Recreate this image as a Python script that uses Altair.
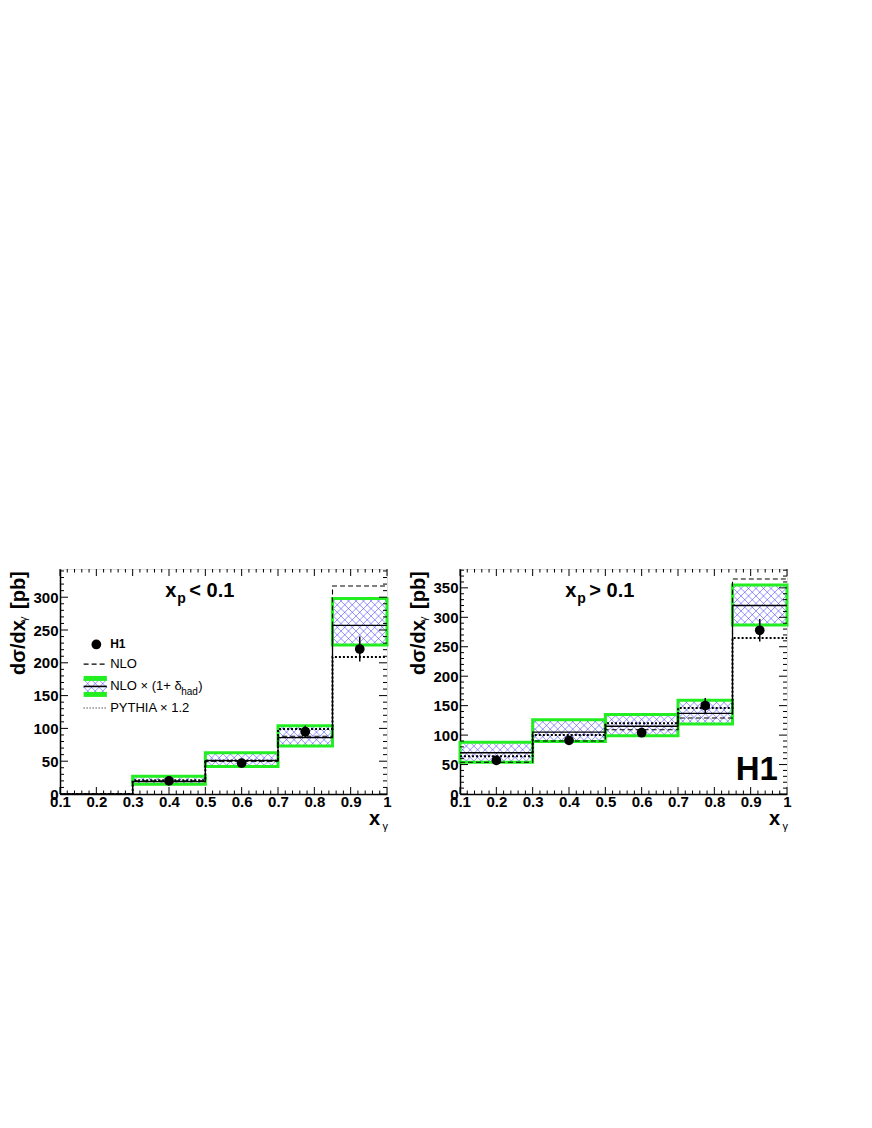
import altair as alt
import pandas as pd
import numpy as np

FONT = "Arial"

# bin edges
edges = [0.1, 0.3, 0.5, 0.7, 0.85, 1.0]
centers = [0.2, 0.4, 0.6, 0.775, 0.925]

# ---- left panel: x_p < 0.1 ----
L_band_lo = [0, 15, 42, 73, 227]
L_band_hi = [0, 27, 63, 104, 298]
L_nlohad = [0, 19, 51, 86, 257]
L_nlo = [0, 20, 50, 88, 317]
L_pythia = [0, 21, 51, 99, 209]
L_data = [None, 20, 47, 95, 221]
L_err = [None, 3, 4, 9, 19]

# ---- right panel: x_p > 0.1 ----
R_band_lo = [54, 89, 99, 119, 287]
R_band_hi = [88, 126, 135, 159, 355]
R_nlohad = [70, 105, 115, 137, 320]
R_nlo = [54, 90, 109, 129, 365]
R_pythia = [64, 100, 120, 146, 265]
R_data = [57, 91, 104, 150, 278]
R_err = [5, 6, 6, 13, 19]

x_major = [0.1, 0.2, 0.3, 0.4, 0.5, 0.6, 0.7, 0.8, 0.9, 1.0]

W, H = 327, 225
GREEN = "#22ee22"
HATCH = "#3c3cff"


def step_df(vals):
    ys = list(vals) + [vals[-1]]
    return pd.DataFrame({"x": edges, "y": ys})


def hatch_rows(x0, x1, y0, y1, ymax, step=7.5):
    """cross-hatch segments inside a data-space rectangle (45 deg in screen space)"""
    px = W / 0.9
    py = H / ymax
    w = (x1 - x0) * px
    h = (y1 - y0) * py
    rows = []
    c = -w
    while c < h:
        a = max(0.0, -c)
        b = min(w, h - c)
        if b > a:
            rows.append((x0 + a / px, x0 + b / px, y0 + (a + c) / py, y0 + (b + c) / py))
        c += step
    c = 0.0
    while c < w + h:
        a = max(0.0, c - h)
        b = min(w, c)
        if b > a:
            rows.append((x0 + a / px, x0 + b / px, y0 + (c - a) / py, y0 + (c - b) / py))
        c += step
    return rows


def panel(band_lo, band_hi, nlohad, nlo, pythia, data, err, ymax, label_op, legend=False, h1=False):
    xsc = alt.Scale(domain=[0.1, 1.0], nice=False, zero=False)
    ysc = alt.Scale(domain=[0, ymax], nice=False)
    xax = alt.Axis(values=x_major, labelExpr="datum.value == 1 ? '1' : format(datum.value, '.1f')",
                   labelFont=FONT, labelFontWeight="bold", labelFontSize=15, labelColor="black",
                   ticks=False, grid=False, domainColor="black", domainWidth=1.5, labelPadding=0,
                   labelOverlap=False, labelFlush=False, title=None)
    yax = alt.Axis(values=list(range(0, int(ymax) + 1, 50)), labelFont=FONT, labelFontWeight="bold",
                   labelFontSize=15, labelColor="black", ticks=False, grid=False, domainColor="black",
                   domainWidth=1.5, labelPadding=2, labelOverlap=False, title=None)
    X = lambda f="x:Q": alt.X(f, scale=xsc, axis=xax)
    Y = lambda f="y:Q": alt.Y(f, scale=ysc, axis=yax)

    band = pd.DataFrame({"x": edges[:-1], "x2": edges[1:], "lo": band_lo, "hi": band_hi})
    band = band[band["hi"] > band["lo"]]
    band_fill = alt.Chart(band).mark_rect(fill="white").encode(
        x=X(), x2="x2:Q", y=Y("lo:Q"), y2="hi:Q")
    hrows = []
    for _, r in band.iterrows():
        hrows += hatch_rows(r["x"], r["x2"], r["lo"], r["hi"], ymax)
    hdf = pd.DataFrame(hrows, columns=["x", "x2", "y", "y2"])
    band_hatch = alt.Chart(hdf).mark_rule(color=HATCH, strokeWidth=0.7, opacity=0.8).encode(
        x=X(), x2="x2:Q", y=Y(), y2="y2:Q")
    band_edge = alt.Chart(band).mark_rect(fill=None, fillOpacity=0, stroke=GREEN, strokeWidth=3).encode(
        x=X(), x2="x2:Q", y=Y("lo:Q"), y2="hi:Q")

    def stepline(vals, dash, width=1.2):
        kw = dict(interpolate="step-after", color="black", strokeWidth=width)
        if dash:
            kw["strokeDash"] = dash
        return alt.Chart(step_df(vals)).mark_line(**kw).encode(x=X(), y=Y())

    l_nlo = stepline(nlo, [5, 3], 1.1)
    l_had = stepline(nlohad, None, 1.3)
    l_py = stepline(pythia, [2, 2], 2.0)

    pts = pd.DataFrame({"x": centers, "y": data, "e": err}).dropna()
    pts["lo"] = pts["y"] - pts["e"]
    pts["hi"] = pts["y"] + pts["e"]
    ebar = alt.Chart(pts).mark_rule(color="black", strokeWidth=1.5).encode(
        x=X(), y=Y("lo:Q"), y2="hi:Q")
    dots = alt.Chart(pts).mark_circle(color="black", opacity=1, size=95).encode(x=X(), y=Y())

    # inward ticks on all four sides
    xt_minor = [round(v, 2) for v in np.arange(0.1, 1.0001, 0.02) if abs(round(v * 10) - v * 10) > 1e-6]
    yt_major = list(range(0, int(ymax) + 1, 50))
    yt_minor = [v for v in range(0, int(ymax) + 1, 10) if v % 50 != 0]
    ymaj = 7 / H * ymax
    ymin = 3.5 / H * ymax
    xmaj = 8 / W * 0.9
    xmin = 4 / W * 0.9
    tick_rows = []
    for v in x_major:
        tick_rows += [(v, v, 0, ymaj), (v, v, ymax, ymax - ymaj)]
    for v in xt_minor:
        tick_rows += [(v, v, 0, ymin), (v, v, ymax, ymax - ymin)]
    for v in yt_major:
        tick_rows += [(0.1, 0.1 + xmaj, v, v), (1.0, 1.0 - xmaj, v, v)]
    for v in yt_minor:
        tick_rows += [(0.1, 0.1 + xmin, v, v), (1.0, 1.0 - xmin, v, v)]
    tdf = pd.DataFrame(tick_rows, columns=["x", "x2", "y", "y2"])
    ticks = alt.Chart(tdf).mark_rule(color="black", strokeWidth=1).encode(
        x=X(), x2="x2:Q", y=Y(), y2="y2:Q")

    def txt(x, y, t, size, weight="normal", align="left", baseline="alphabetic", dx=0, dy=0, angle=0):
        kw = dict(font=FONT, fontSize=size, fontWeight=weight, align=align, baseline=baseline,
                  color="black")
        if dx:
            kw["dx"] = dx
        if dy:
            kw["dy"] = dy
        if angle:
            kw["angle"] = angle
        return alt.Chart(pd.DataFrame({"x": [x], "y": [y], "t": [t]})).mark_text(**kw).encode(
            x=X(), y=Y(), text="t:N")

    # panel label x_p < 0.1
    lab_y = ymax * (1 - 28 / H)
    lab_x = 0.39
    layers = [band_fill, band_hatch, band_edge, l_nlo, l_had, l_py, ebar, dots, ticks,
              txt(lab_x, lab_y, "x", 20, "bold"),
              txt(lab_x, lab_y, "p", 14, "bold", dx=12, dy=6),
              txt(lab_x, lab_y, label_op, 20, "bold", dx=24)]

    # x axis title  x_γ
    pyx = ymax / H
    layers.append(txt(1.0, -31 * pyx, "x", 20, "bold", align="right", dx=-7))
    layers.append(txt(1.0, -36 * pyx, "γ", 11, "normal", align="right", dx=1))

    # y axis title  dσ/dx_γ [pb] (rotated), positions relative to plot bottom
    xt = 0.1 - 41 / W * 0.9
    xs = 0.1 - 36 / W * 0.9
    yy = lambda p: (795 - p) / H * ymax
    layers.append(txt(xt, yy(676), "dσ/dx", 20, "bold", align="left", baseline="middle", angle=270))
    layers.append(txt(xs, yy(623), "γ", 11, "normal", align="left", baseline="middle", angle=270))
    layers.append(txt(xt, yy(610), "[pb]", 20, "bold", align="left", baseline="middle", angle=270))

    if legend:
        lx0, lx1, tx = 0.165, 0.229, 0.238
        ry = [228, 198, 164, 131]
        layers.append(alt.Chart(pd.DataFrame({"x": [0.2], "y": [ry[0]]})).mark_circle(
            color="black", opacity=1, size=95).encode(x=X(), y=Y()))
        layers.append(txt(tx, ry[0], "H1", 12, "bold", baseline="middle"))
        layers.append(alt.Chart(pd.DataFrame({"x": [lx0], "x2": [lx1], "y": [ry[1]]})).mark_rule(
            color="black", strokeWidth=1.1, strokeDash=[5, 3]).encode(x=X(), x2="x2:Q", y=Y()))
        bh = 8 / H * ymax
        bl = pd.DataFrame({"x": [lx0], "x2": [lx1], "lo": [ry[2] - bh], "hi": [ry[2] + bh]})
        layers.append(alt.Chart(bl).mark_rect(fill="white").encode(x=X(), x2="x2:Q", y=Y("lo:Q"), y2="hi:Q"))
        lh = pd.DataFrame(hatch_rows(lx0, lx1, ry[2] - bh, ry[2] + bh, ymax), columns=["x", "x2", "y", "y2"])
        layers.append(alt.Chart(lh).mark_rule(color=HATCH, strokeWidth=0.7, opacity=0.8).encode(
            x=X(), x2="x2:Q", y=Y(), y2="y2:Q"))
        edge_rows = pd.DataFrame({"x": [lx0, lx0], "x2": [lx1, lx1], "y": [ry[2] - bh, ry[2] + bh]})
        layers.append(alt.Chart(edge_rows).mark_rule(color=GREEN, strokeWidth=5).encode(
            x=X(), x2="x2:Q", y=Y()))
        layers.append(alt.Chart(pd.DataFrame({"x": [lx0], "x2": [lx1], "y": [ry[2]]})).mark_rule(
            color="black", strokeWidth=1.6).encode(x=X(), x2="x2:Q", y=Y()))
        layers.append(alt.Chart(pd.DataFrame({"x": [lx0], "x2": [lx1], "y": [ry[3]]})).mark_rule(
            color="black", strokeWidth=1.1, strokeDash=[1, 2]).encode(x=X(), x2="x2:Q", y=Y()))
        layers.append(txt(tx, ry[1], "NLO", 13, baseline="middle"))
        layers.append(txt(tx, ry[2], "NLO × (1+ δ", 13, baseline="middle"))
        layers.append(txt(tx, ry[2], "had", 10, baseline="middle", dx=71, dy=6))
        layers.append(txt(tx, ry[2], ")", 13, baseline="middle", dx=88))
        layers.append(txt(tx, ry[3], "PYTHIA × 1.2", 13, baseline="middle"))

    if h1:
        layers.append(txt(0.975, ymax * 0.03, "H1", 33, "bold", align="right", baseline="bottom"))

    return alt.layer(*layers).properties(width=W, height=H)


left = panel(L_band_lo, L_band_hi, L_nlohad, L_nlo, L_pythia, L_data, L_err, 343, "< 0.1", legend=True)
right = panel(R_band_lo, R_band_hi, R_nlohad, R_nlo, R_pythia, R_data, R_err, 382, "> 0.1", h1=True)

chart = alt.hconcat(left, right, spacing=16).properties(
    padding={"left": 0, "top": 560, "right": 0, "bottom": 0}
).configure_view(stroke="black", strokeWidth=1.5).configure(background="white")

chart.save("out.html", embed_options={"renderer": "svg", "actions": False})
